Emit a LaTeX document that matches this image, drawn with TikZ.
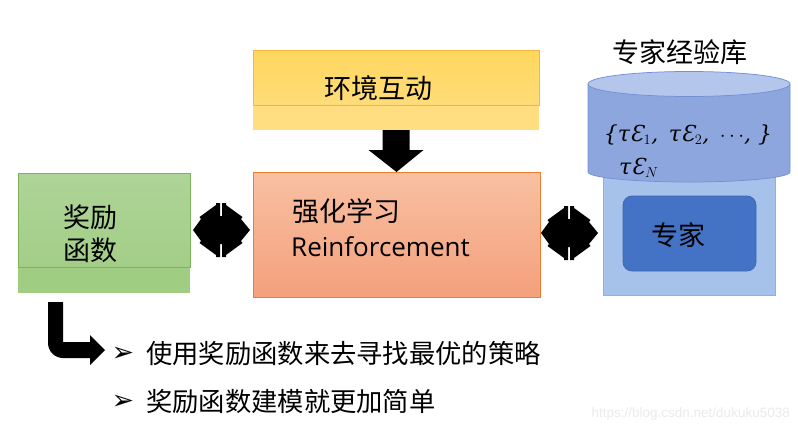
\documentclass[tikz,border=0pt]{standalone}
\usepackage{fontspec}
\setmainfont{Noto Sans CJK SC}
\newfontfamily\latinsans{Open Sans}
\newfontfamily\dvsans{DejaVu Sans}
\newfontfamily\dvserif{DejaVu Serif}
\newfontfamily\wmfont{Liberation Sans}
\usetikzlibrary{calc,shapes.geometric}
\definecolor{grA}{HTML}{AED497}
\definecolor{grB}{HTML}{A3CE88}
\definecolor{grS}{HTML}{9FCD82}
\definecolor{grL}{HTML}{7EB25C}
\definecolor{yeA}{HTML}{FFD65E}
\definecolor{yeB}{HTML}{FEDC78}
\definecolor{yeS}{HTML}{FFDD80}
\definecolor{yeL}{HTML}{F5B53F}
\definecolor{orA}{HTML}{F8C0A2}
\definecolor{orB}{HTML}{F4A07C}
\definecolor{orL}{HTML}{ED7D31}
\definecolor{lbF}{HTML}{A6C2EA}
\definecolor{lbL}{HTML}{8DB0E0}
\definecolor{cyB}{HTML}{8EA6DE}
\definecolor{cyT}{HTML}{B5C6EC}
\definecolor{cyL}{HTML}{7391D4}
\definecolor{exF}{HTML}{4472C4}
\definecolor{exL}{HTML}{3F66B5}
\tikzset{
  boxbase/.style={inner sep=0pt, outer sep=0pt, line width=0.75pt, anchor=north west},
  cjktext/.style={font=\fontsize{27}{33}\selectfont, inner sep=0pt, align=left},
  bigarrow/.style={fill=black, draw=none},
  bulletmark/.style={font=\dvsans\fontsize{27}{27}\selectfont, inner sep=0pt},
}
\newcommand\dblarrowshape[1]{%
  \fill[bigarrow, shift={(#1)}] (-28,0) -- (-20,-11) -- (-21.5,-13) -- (-5,-25) -- (-5,-27) -- (-1,-27) -- (-1,-14) -- (1,-14) -- (1,-27) -- (5,-27) -- (5,-25) -- (21.5,-13) -- (20,-11) -- (29,0)
   -- (20,11) -- (21.5,13) -- (5,25) -- (5,27) -- (1,27) -- (1,14) -- (-1,14) -- (-1,27) -- (-5,27) -- (-5,25) -- (-21.5,13) -- (-20,11) -- cycle;}
\begin{document}
\begin{tikzpicture}[x=1pt,y=-1pt]
\useasboundingbox[fill=white] (0,0) rectangle (798,434);

% reward function box
\node[boxbase, fill=grS, minimum width=172, minimum height=120] (rewardbase) at (18,173) {};
\node[boxbase, draw=grL, top color=grA, bottom color=grB, minimum width=172, minimum height=94] (reward) at (18,173) {};
\node[cjktext] (rewardtxt) at (90,234) {奖励\\函数};

% environment box
\node[boxbase, fill=yeS, minimum width=286, minimum height=80] (envbase) at (253,50) {};
\node[boxbase, draw=yeL, top color=yeA, bottom color=yeB, minimum width=286, minimum height=55] (env) at (253,50) {};
\node[cjktext] (envtxt) at (378,88) {环境互动};

% reinforcement learning box
\node[boxbase, draw=orL, top color=orA, bottom color=orB, minimum width=287, minimum height=125] (rl) at (253,172) {};
\node[cjktext, anchor=west] (rltxt) at (292,211) {强化学习};
\node[font=\latinsans\fontsize{26}{26}\selectfont, inner sep=0pt, anchor=west] (rlen) at (291,247) {Reinforcement};

% expert library
\node[boxbase, draw=lbL, fill=lbF, minimum width=172, minimum height=125] (exbox) at (603,170) {};
\fill[cyB, draw=cyL, line width=0.75pt] (588,84) -- (588,172) arc (180:360:101pt and 10pt) -- (790,84) -- cycle;
\node[ellipse, draw=cyL, fill=cyT, line width=0.75pt, minimum width=202, minimum height=25, inner sep=0pt] (cyltop) at (689,84) {};
\node[cjktext] (extitle) at (680,52) {专家经验库};
\node[font=\dvserif\itshape\fontsize{22}{22}\selectfont, inner sep=0pt] (traj) at (688,135) {\{τƐ$_1$,\, τƐ$_2$,\, $\cdots$, \}};
\node[font=\dvserif\itshape\fontsize{22}{22}\selectfont, inner sep=0pt, anchor=west] (trajN) at (619,168) {τƐ$_N$};
\node[boxbase, draw=exL, fill=exF, rounded corners=9pt, minimum width=133, minimum height=75] (expert) at (623,196) {};
\node[cjktext] (experttxt) at (678,235) {专家};

% arrows
\fill[bigarrow] ($(envbase.south)+(-13.5,0)$) -- ($(envbase.south)+(13.5,0)$) -- ($(envbase.south)+(13.5,20)$) -- ($(envbase.south)+(27.5,20)$) -- (rl.north) -- ($(envbase.south)+(-27.5,20)$) -- ($(envbase.south)+(-13.5,20)$) -- cycle;
\coordinate (la) at (221,230);
\coordinate (ra) at (569,233);
\dblarrowshape{la}
\dblarrowshape{ra}

% bent arrow
\coordinate (bendtop) at (48,302);
\fill[bigarrow] (bendtop) -- (63,302) -- (63,342) -- (90,342) -- (90,335) -- (105,350) -- (90,365) -- (90,358) -- (63,358) arc (270:180:15pt) -- cycle;

% bullet lines
\node[bulletmark] (b1) at (123,354) {➢};
\node[bulletmark] (b2) at (123,402) {➢};
\node[cjktext, font=\fontsize{26.3}{26.3}\selectfont, anchor=west] (t1) at (146,354) {使用奖励函数来去寻找最优的策略};
\node[cjktext, font=\fontsize{26.3}{26.3}\selectfont, anchor=west] (t2) at (146,402) {奖励函数建模就更加简单};

% watermark
\node[font=\wmfont\fontsize{13.5}{13.5}\selectfont, text=black!8, inner sep=0pt, anchor=east] (wm) at (790,414) {https://blog.csdn.net/dukuku5038};
\end{tikzpicture}
\end{document}
